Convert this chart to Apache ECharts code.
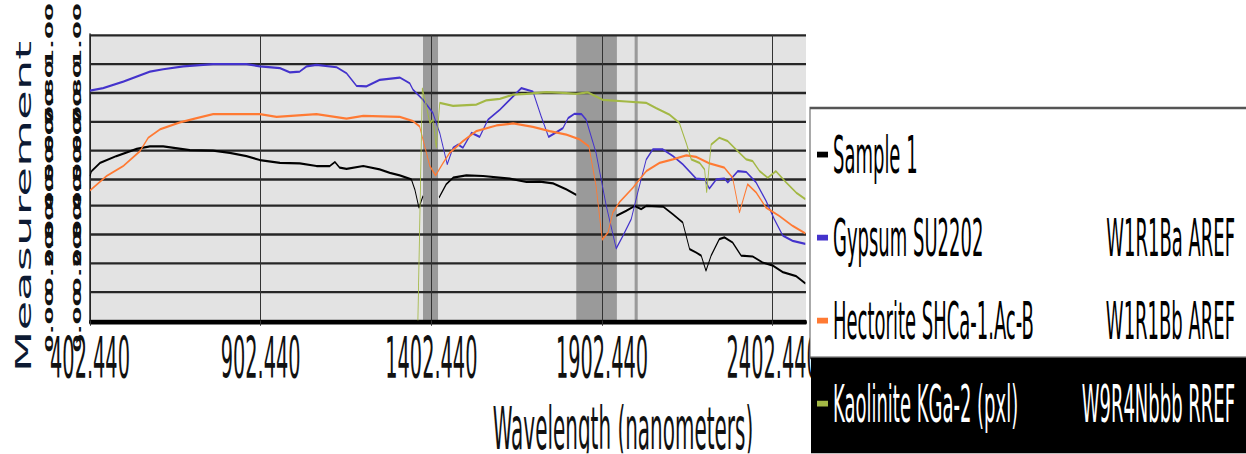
<!DOCTYPE html>
<html>
<head>
<meta charset="utf-8">
<script src="https://cdn.jsdelivr.net/npm/echarts@6/dist/echarts.min.js"></script>
<style>
html,body{margin:0;padding:0;background:#fff;}
#wrap{width:1246px;height:454px;overflow:hidden;position:relative;background:#fff;}
#chart{width:1246px;height:173.28px;transform:scaleY(2.62);transform-origin:0 0;}
</style>
</head>
<body>
<div id="wrap"><div id="chart"></div></div>
<script>
// ---- data (wavelength nm, measurement) ----
const seriesNames = ['Sample 1', 'Gypsum SU2202', 'Hectorite SHCa-1.Ac-B', 'Kaolinite KGa-2 (pxl)'];
const seriesCodes = ['', 'W1R1Ba AREF', 'W1R1Bb AREF', 'W9R4Nbbb RREF'];
const seriesColors = ['#000000', '#4433cc', '#ff7a33', '#a3b845'];

const sampleWl = [402.44, 407, 432, 480, 539, 578, 617, 695, 763, 812, 861, 900, 959, 1017, 1066, 1105, 1120, 1134, 1154, 1203, 1251, 1281, 1310, 1344, 1354, 1366, 1378, 1400, 1425, 1446, 1466, 1505, 1554, 1632, 1681, 1720, 1759, 1798, 1827, 1885, 1944, 1973, 1998, 2017, 2032, 2081, 2110, 2139, 2159, 2178, 2193, 2207, 2222, 2246, 2261, 2285, 2310, 2344, 2373, 2403, 2432, 2471, 2498];
const sampleVal = [0.505, 0.523, 0.552, 0.576, 0.601, 0.610, 0.610, 0.597, 0.595, 0.587, 0.576, 0.562, 0.552, 0.550, 0.541, 0.541, 0.555, 0.535, 0.531, 0.541, 0.529, 0.517, 0.508, 0.494, 0.459, 0.395, 0.436, null, 0.430, 0.477, 0.500, 0.508, 0.506, 0.497, 0.485, 0.486, 0.480, 0.459, 0.440, null, 0.366, 0.384, 0.401, 0.390, 0.401, 0.399, 0.372, 0.343, 0.250, 0.238, 0.227, 0.174, 0.227, 0.285, 0.291, 0.273, 0.227, 0.224, 0.203, 0.192, 0.169, 0.155, 0.130];

const gypsumWl = [402.44, 441, 500, 578, 617, 676, 763, 861, 900, 959, 988, 1017, 1037, 1066, 1125, 1154, 1183, 1212, 1251, 1310, 1339, 1349, 1378, 1407, 1427, 1449, 1466, 1481, 1495, 1520, 1544, 1568, 1603, 1642, 1666, 1700, 1724, 1746, 1768, 1788, 1803, 1822, 1842, 1856, 1885, 1915, 1944, 1964, 1988, 2007, 2032, 2051, 2081, 2110, 2139, 2178, 2203, 2217, 2237, 2261, 2271, 2300, 2325, 2354, 2383, 2407, 2432, 2461, 2498];
const gypsumVal = [0.805, 0.814, 0.837, 0.872, 0.880, 0.890, 0.898, 0.898, 0.890, 0.884, 0.869, 0.872, 0.890, 0.895, 0.887, 0.866, 0.822, 0.820, 0.843, 0.851, 0.831, 0.808, 0.773, 0.727, 0.657, 0.547, 0.605, 0.616, 0.605, 0.657, 0.643, 0.703, 0.738, 0.785, 0.814, 0.802, 0.715, 0.643, 0.659, 0.674, 0.709, 0.724, 0.723, 0.703, 0.587, 0.401, 0.252, 0.297, 0.355, 0.448, 0.564, 0.599, 0.599, 0.576, 0.547, 0.497, 0.494, 0.462, 0.494, 0.497, 0.483, 0.523, 0.520, 0.483, 0.419, 0.355, 0.297, 0.279, 0.268];

const hectoriteWl = [402.44, 451, 500, 549, 573, 607, 666, 715, 763, 900, 949, 1066, 1154, 1203, 1310, 1349, 1368, 1388, 1398, 1415, 1437, 1456, 1495, 1534, 1593, 1642, 1700, 1749, 1798, 1837, 1864, 1885, 1903, 1920, 1934, 1954, 1993, 2012, 2032, 2071, 2110, 2149, 2178, 2217, 2261, 2285, 2305, 2329, 2354, 2383, 2422, 2461, 2498];
const hectoriteVal = [0.455, 0.506, 0.541, 0.593, 0.640, 0.669, 0.694, 0.709, 0.723, 0.723, 0.713, 0.723, 0.707, 0.717, 0.713, 0.698, 0.680, 0.587, 0.541, 0.508, 0.552, 0.587, 0.628, 0.663, 0.683, 0.690, 0.678, 0.663, 0.651, 0.634, 0.610, 0.471, 0.283, 0.308, 0.378, 0.415, 0.465, 0.494, 0.523, 0.552, 0.564, 0.578, 0.573, 0.550, 0.535, 0.500, 0.378, 0.477, 0.448, 0.395, 0.366, 0.331, 0.305];

const kaoliniteWl = [1363, 1376, 1388, 1398, 1407, 1417, 1427, 1466, 1534, 1563, 1603, 1642, 1681, 1739, 1788, 1827, 1861, 1905, 1973, 2032, 2061, 2100, 2129, 2149, 2164, 2188, 2203, 2209, 2222, 2246, 2271, 2295, 2325, 2344, 2364, 2388, 2412, 2442, 2471, 2498];
const kaoliniteVal = [0.0, 0.814, 0.750, 0.692, 0.703, 0.605, 0.762, 0.752, 0.756, 0.771, 0.776, 0.791, 0.794, 0.800, 0.797, 0.794, 0.799, 0.773, 0.767, 0.762, 0.744, 0.721, 0.692, 0.622, 0.564, 0.552, 0.529, 0.448, 0.616, 0.640, 0.628, 0.599, 0.564, 0.558, 0.523, 0.500, 0.523, 0.483, 0.448, 0.425];

// water absorption bands (nm)
const bandStart = [1378, 1827, 1998];
const bandEnd = [1422, 1946, 2007];

const xMin = 402.44, xMax = 2500, xStep = 500;
const yMin = 0, yMax = 1, yStep = 0.1;

// ---- build ----
const FONT = "'Liberation Sans Narrow', 'DejaVu Sans Condensed', 'Liberation Sans', sans-serif";
const wlSets = [sampleWl, gypsumWl, hectoriteWl, kaoliniteWl];
const valSets = [sampleVal, gypsumVal, hectoriteVal, kaoliniteVal];
const pairs = (w, v) => w.map((x, i) => [x, v[i] === null ? '-' : v[i]]);

const lineSeries = seriesNames.map((n, i) => ({
  name: n,
  type: 'line',
  data: pairs(wlSets[i], valSets[i]),
  showSymbol: false,
  connectNulls: false,
  color: seriesColors[i],
  lineStyle: { color: seriesColors[i], width: 0.85 },
  z: 3,
  silent: true
}));

const bandSeries = {
  name: 'bands',
  type: 'line',
  data: [],
  silent: true,
  markArea: {
    silent: true,
    z: 1,
    itemStyle: { color: '#9a9a9a', opacity: 1 },
    data: bandStart.map((s, i) => [{ xAxis: s }, { xAxis: bandEnd[i] }])
  }
};

const yAxisBase = {
  type: 'value', min: yMin, max: yMax, interval: yStep, position: 'left', z: 2,
  axisLabel: {
    rotate: 90, margin: 7, fontSize: 11, fontFamily: FONT, color: '#111', fontWeight: 'bold',
    showMinLabel: true, showMaxLabel: true, hideOverlap: false,
    formatter: v => v.toFixed(2)
  },
  axisTick: { show: false }
};

const option = {
  animation: false,
  backgroundColor: '#fff',
  grid: {
    show: true, backgroundColor: '#e3e3e3', borderWidth: 0,
    left: 90, top: 13.36, width: 716, height: 108.94, z: 0,
    containLabel: false, outerBoundsMode: 'none'
  },
  xAxis: {
    type: 'value', min: xMin, max: xMax, interval: xStep, z: 2,
    name: 'Wavelength (nanometers)',
    nameLocation: 'middle', nameGap: 30,
    nameTextStyle: { fontSize: 22.2, fontFamily: FONT, color: '#111', padding: [0, 0, 0, 350] },
    axisLine: { show: true, onZero: false, lineStyle: { color: '#000', width: 1.8 } },
    axisTick: { show: true, length: 2, lineStyle: { color: '#333', width: 1 } },
    axisLabel: {
      margin: 3.4, fontSize: 21.5, fontFamily: FONT, color: '#111',
      showMaxLabel: false, formatter: v => v.toFixed(3)
    },
    splitLine: { show: true, showMaxLine: false, lineStyle: { color: '#333', width: 1 } }
  },
  yAxis: [
    Object.assign({}, yAxisBase, {
      name: 'Measurement', nameLocation: 'middle', nameGap: 55.5,
      nameTextStyle: { fontSize: 20.5, fontFamily: FONT, color: '#0d1a33', padding: [0, 22, 0, 0] },
      axisLine: { show: true, lineStyle: { color: '#222', width: 1.5 } },
      splitLine: { show: true, lineStyle: { color: '#262626', width: 0.9 } }
    }),
    Object.assign({}, yAxisBase, {
      offset: 28.5,
      axisLine: { show: false },
      splitLine: { show: false }
    })
  ],
  legend: {
    orient: 'vertical', left: 817, top: 49, padding: 0, itemGap: 11.7,
    icon: 'rect', itemWidth: 11, itemHeight: 2.2, selectedMode: false, z: 4,
    data: seriesNames.map((n, i) => i === 3 ? { name: n, textStyle: { color: '#fff' } } : { name: n }),
    formatter: name => {
      const i = seriesNames.indexOf(name);
      return seriesCodes[i] ? '{a|' + name + '}{b|' + seriesCodes[i] + '}' : '{a|' + name + '}';
    },
    textStyle: {
      fontSize: 20, fontFamily: FONT, color: '#000',
      rich: {
        a: { fontSize: 20, fontFamily: FONT, width: 238, lineHeight: 20, align: 'left' },
        b: { fontSize: 20, fontFamily: FONT, width: 164, lineHeight: 20, align: 'right' }
      }
    }
  },
  graphic: {
    elements: [
      { type: 'rect', z: 3, silent: true, shape: { x: 810, y: 41.2, width: 460, height: 95.4 },
        style: { fill: '#fff', stroke: '#555', lineWidth: 1 } },
      { type: 'rect', z: 3, silent: true, shape: { x: 811, y: 136.6, width: 460, height: 40 },
        style: { fill: '#000' } }
    ]
  },
  series: [bandSeries].concat(lineSeries)
};

const chart = echarts.init(document.getElementById('chart'), null, { renderer: 'svg' });
chart.setOption(option);
</script>
</body>
</html>
